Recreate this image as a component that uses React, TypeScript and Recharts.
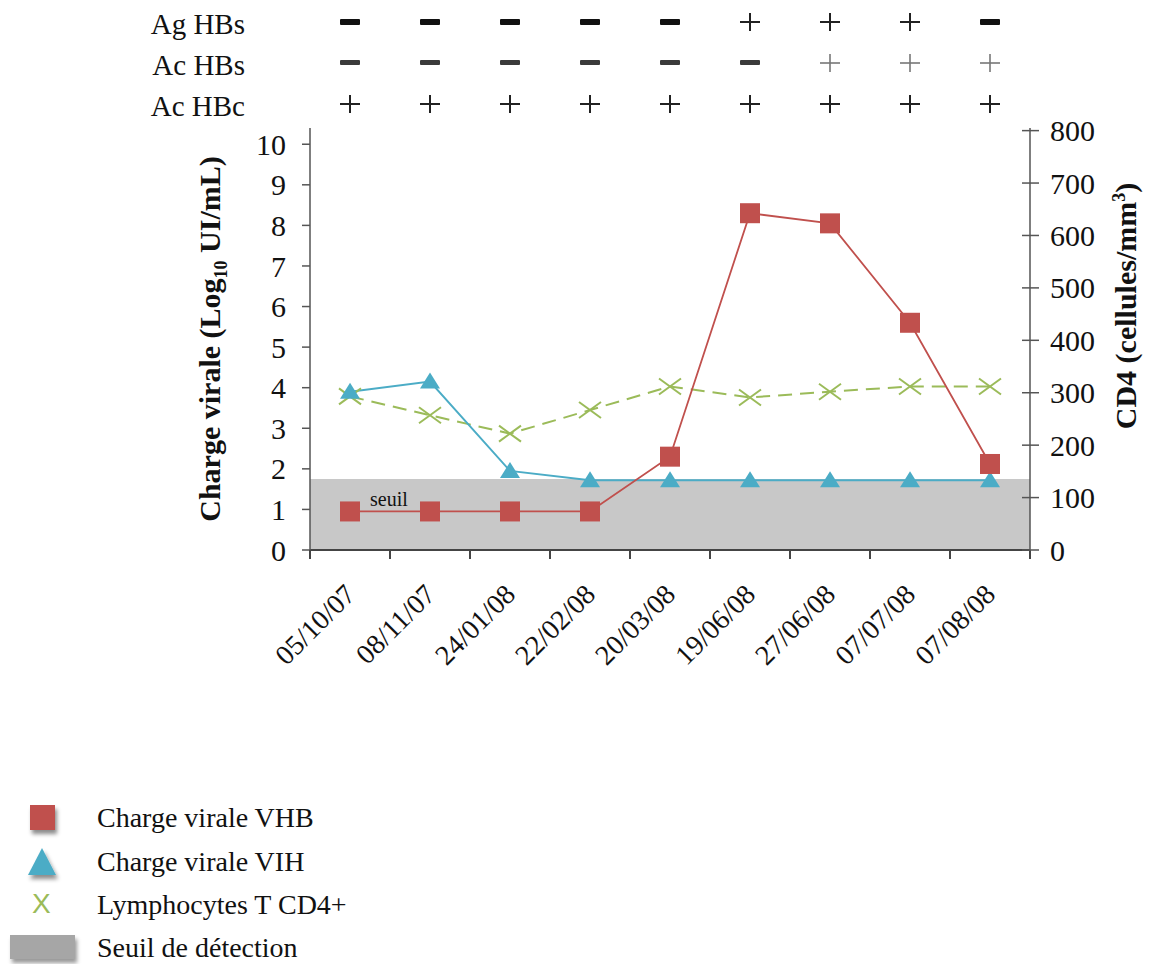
import React from "react";
import {
  ComposedChart,
  Line,
  XAxis,
  YAxis,
  ReferenceArea,
  Label,
} from "recharts";

const dates = [
  "05/10/07",
  "08/11/07",
  "24/01/08",
  "22/02/08",
  "20/03/08",
  "19/06/08",
  "27/06/08",
  "07/07/08",
  "07/08/08",
];
const chargeVHB = [0.95, 0.95, 0.95, 0.95, 2.3, 8.3, 8.05, 5.6, 2.12];
const chargeVIH = [3.9, 4.15, 1.95, 1.72, 1.72, 1.72, 1.72, 1.72, 1.72];
const cd4 = [293, 257, 222, 267, 312, 291, 302, 312, 312];

const agHBs = ["-", "-", "-", "-", "-", "+", "+", "+", "-"];
const acHBs = ["-", "-", "-", "-", "-", "-", "+", "+", "+"];
const acHBc = ["+", "+", "+", "+", "+", "+", "+", "+", "+"];

const seuil = 1.75;
const leftTicks = [0, 1, 2, 3, 4, 5, 6, 7, 8, 9, 10];
const rightTicks = [0, 100, 200, 300, 400, 500, 600, 700, 800];

const RED = "#c0504d";
const BLUE = "#4bacc6";
const GREEN = "#9bbb59";
const AXIS = "#555";
const FONT = "'Liberation Serif', 'Times New Roman', serif";

const data = dates.map((d, i) => ({
  date: d,
  vhb: chargeVHB[i],
  vih: chargeVIH[i],
  cd4: cd4[i],
}));

const SquareDot = (props: any) => {
  const { cx, cy } = props;
  if (cx == null || cy == null) return null;
  return <rect x={cx - 10} y={cy - 10} width={20} height={20} fill={RED} />;
};

const TriangleDot = (props: any) => {
  const { cx, cy } = props;
  if (cx == null || cy == null) return null;
  return (
    <polygon
      points={`${cx},${cy - 9} ${cx + 10},${cy + 7} ${cx - 10},${cy + 7}`}
      fill={BLUE}
    />
  );
};

const CrossDot = (props: any) => {
  const { cx, cy } = props;
  if (cx == null || cy == null) return null;
  return (
    <g stroke={GREEN} strokeWidth={2}>
      <line x1={cx - 11} y1={cy - 8} x2={cx + 11} y2={cy + 8} />
      <line x1={cx - 11} y1={cy + 8} x2={cx + 11} y2={cy - 8} />
    </g>
  );
};

// one row of +/- signs above the chart
const signTick = (signs: string[], light: boolean) => (props: any) => {
  const { x, y, payload } = props;
  const s = signs[dates.indexOf(payload.value)];
  const cy = y - 24;
  if (s === "+") {
    const c = light ? "#777" : "#222";
    return (
      <g stroke={c} strokeWidth={light ? 1.6 : 2}>
        <line x1={x - 10} x2={x + 10} y1={cy} y2={cy} />
        <line x1={x} x2={x} y1={cy - 9} y2={cy + 9} />
      </g>
    );
  }
  return (
    <rect
      x={x - 10}
      y={cy - 3}
      width={20}
      height={light ? 5 : 6}
      rx={1}
      fill={light ? "#3a3a3a" : "#111"}
    />
  );
};

const rowLabel = (text: string) => (props: any) => {
  const { x, y, height } = props.viewBox;
  return (
    <text
      x={x - 65}
      y={y + height - 22}
      textAnchor="end"
      dominantBaseline="central"
      fontSize={29}
      fill="#111"
    >
      {text}
    </text>
  );
};

// date label plus tick marks on the band edges
const DateTick = (props: any) => {
  const { x, y, payload, width, visibleTicksCount } = props;
  const w = Number(width);
  const n = Number(visibleTicksCount);
  const half = w > 0 && n > 0 ? w / n / 2 : 40;
  const idx = dates.indexOf(payload.value);
  const tx = x + 7;
  const ty = y + 46;
  return (
    <g>
      <line x1={x - half} x2={x - half} y1={y} y2={y + 9} stroke="#444" strokeWidth={2} />
      {idx === dates.length - 1 && (
        <line x1={x + half} x2={x + half} y1={y} y2={y + 9} stroke="#444" strokeWidth={2} />
      )}
      <text
        x={tx}
        y={ty}
        textAnchor="end"
        fontSize={28}
        fill="#111"
        transform={`rotate(-45, ${tx}, ${ty})`}
      >
        {payload.value}
      </text>
    </g>
  );
};

const RightTick = (props: any) => {
  const { x, y, payload } = props;
  return (
    <g>
      <line x1={x - 8} x2={x + 9} y1={y} y2={y} stroke={AXIS} strokeWidth={1.5} />
      <text x={x + 20} y={y} dy="0.35em" fontSize={30} fill="#111">
        {payload.value}
      </text>
    </g>
  );
};

const leftTitle = (props: any) => {
  const { x, y, height } = props.viewBox;
  const tx = x + 40;
  const ty = y + height / 2;
  return (
    <text
      x={tx}
      y={ty}
      textAnchor="middle"
      fontSize={30}
      fontWeight="bold"
      fill="#111"
      transform={`rotate(-90, ${tx}, ${ty})`}
    >
      Charge virale (Log
      <tspan fontSize={18} dy={7}>
        10
      </tspan>
      <tspan dy={-7}> UI/mL)</tspan>
    </text>
  );
};

const rightTitle = (props: any) => {
  const { x, y, height } = props.viewBox;
  const tx = x + 106;
  const ty = y + height / 2 - 33;
  return (
    <text
      x={tx}
      y={ty}
      textAnchor="middle"
      fontSize={30}
      fontWeight="bold"
      fill="#111"
      transform={`rotate(-90, ${tx}, ${ty})`}
    >
      CD4 (cellules/mm
      <tspan fontSize={18} dy={-11}>
        3
      </tspan>
      <tspan dy={11}>)</tspan>
    </text>
  );
};

const seuilLabel = (props: any) => {
  const { x, y } = props.viewBox;
  return (
    <text x={x + 60} y={y + 27} fontSize={20} fill="#111">
      seuil
    </text>
  );
};

const legendText: React.CSSProperties = {
  position: "absolute",
  left: 97,
  fontSize: 28,
  color: "#111",
  lineHeight: "30px",
  whiteSpace: "nowrap",
};

export default function App() {
  return (
    <div
      style={{
        position: "absolute",
        left: 0,
        top: 0,
        width: 1149,
        height: 964,
        background: "#fff",
        fontFamily: FONT,
        overflow: "hidden",
      }}
    >
      <ComposedChart
        width={1149}
        height={700}
        data={data}
        margin={{ top: 5, right: 0, bottom: 10, left: 180 }}
      >
        <XAxis
          xAxisId="b_cat"
          dataKey="date"
          scale="band"
          height={140}
          stroke="#444"
          strokeWidth={2}
          tickLine={false}
          tickSize={0}
          tickMargin={0}
          interval={0}
          tick={<DateTick />}
        />
        <XAxis
          xAxisId="a_hbc"
          dataKey="date"
          scale="band"
          orientation="top"
          height={41}
          axisLine={false}
          tickLine={false}
          tickSize={0}
          tickMargin={0}
          interval={0}
          tick={signTick(acHBc, false)}
        >
          <Label content={rowLabel("Ac HBc")} />
        </XAxis>
        <XAxis
          xAxisId="b_hbs"
          dataKey="date"
          scale="band"
          orientation="top"
          height={41}
          axisLine={false}
          tickLine={false}
          tickSize={0}
          tickMargin={0}
          interval={0}
          tick={signTick(acHBs, true)}
        >
          <Label content={rowLabel("Ac HBs")} />
        </XAxis>
        <XAxis
          xAxisId="c_ag"
          dataKey="date"
          scale="band"
          orientation="top"
          height={41}
          axisLine={false}
          tickLine={false}
          tickSize={0}
          tickMargin={0}
          interval={0}
          tick={signTick(agHBs, false)}
        >
          <Label content={rowLabel("Ag HBs")} />
        </XAxis>
        <YAxis
          yAxisId="left"
          width={130}
          domain={[0, 10.4]}
          ticks={leftTicks}
          interval={0}
          stroke={AXIS}
          strokeWidth={1.5}
          tickSize={8}
          tickMargin={16}
          tick={{ fontSize: 30, fill: "#111" }}
        >
          <Label content={leftTitle} />
        </YAxis>
        <YAxis
          yAxisId="right"
          orientation="right"
          width={119}
          domain={[0, 805]}
          ticks={rightTicks}
          interval={0}
          stroke={AXIS}
          strokeWidth={1.5}
          tickLine={false}
          tickSize={0}
          tickMargin={0}
          tick={<RightTick />}
        >
          <Label content={rightTitle} />
        </YAxis>

        <ReferenceArea
          xAxisId="b_cat"
          yAxisId="left"
          y1={0}
          y2={seuil}
          fill="#c8c8c8"
          fillOpacity={1}
          stroke="none"
          label={seuilLabel}
        />

        <Line
          xAxisId="b_cat"
          yAxisId="right"
          dataKey="cd4"
          stroke={GREEN}
          strokeWidth={2}
          strokeDasharray="14 8"
          dot={<CrossDot />}
          activeDot={false}
          isAnimationActive={false}
        />
        <Line
          xAxisId="b_cat"
          yAxisId="left"
          dataKey="vih"
          stroke={BLUE}
          strokeWidth={2}
          dot={<TriangleDot />}
          activeDot={false}
          isAnimationActive={false}
        />
        <Line
          xAxisId="b_cat"
          yAxisId="left"
          dataKey="vhb"
          stroke={RED}
          strokeWidth={1.8}
          dot={<SquareDot />}
          activeDot={false}
          isAnimationActive={false}
        />
      </ComposedChart>

      <div
        style={{
          position: "absolute",
          left: 30,
          top: 805,
          width: 25,
          height: 25,
          background: RED,
          boxShadow: "2px 4px 4px rgba(0,0,0,0.45)",
        }}
      />
      <div style={{ ...legendText, top: 803 }}>Charge virale VHB</div>

      <svg
        style={{ position: "absolute", left: 24, top: 844, overflow: "visible" }}
        width={36}
        height={36}
      >
        <defs>
          <filter id="sh" x="-30%" y="-30%" width="160%" height="170%">
            <feDropShadow dx="2" dy="4" stdDeviation="2" floodOpacity="0.45" />
          </filter>
        </defs>
        <polygon points="18,4 32,31 4,31" fill={BLUE} filter="url(#sh)" />
      </svg>
      <div style={{ ...legendText, top: 847 }}>Charge virale VIH</div>

      <div
        style={{
          position: "absolute",
          left: 32,
          top: 889,
          fontFamily: "'Liberation Sans', sans-serif",
          fontSize: 28,
          lineHeight: "30px",
          color: GREEN,
        }}
      >
        X
      </div>
      <div style={{ ...legendText, top: 890 }}>Lymphocytes T CD4+</div>

      <div
        style={{
          position: "absolute",
          left: 10,
          top: 935,
          width: 65,
          height: 24,
          background: "#a6a6a6",
          boxShadow: "2px 4px 4px rgba(0,0,0,0.4)",
        }}
      />
      <div style={{ ...legendText, top: 933 }}>Seuil de détection</div>
    </div>
  );
}
